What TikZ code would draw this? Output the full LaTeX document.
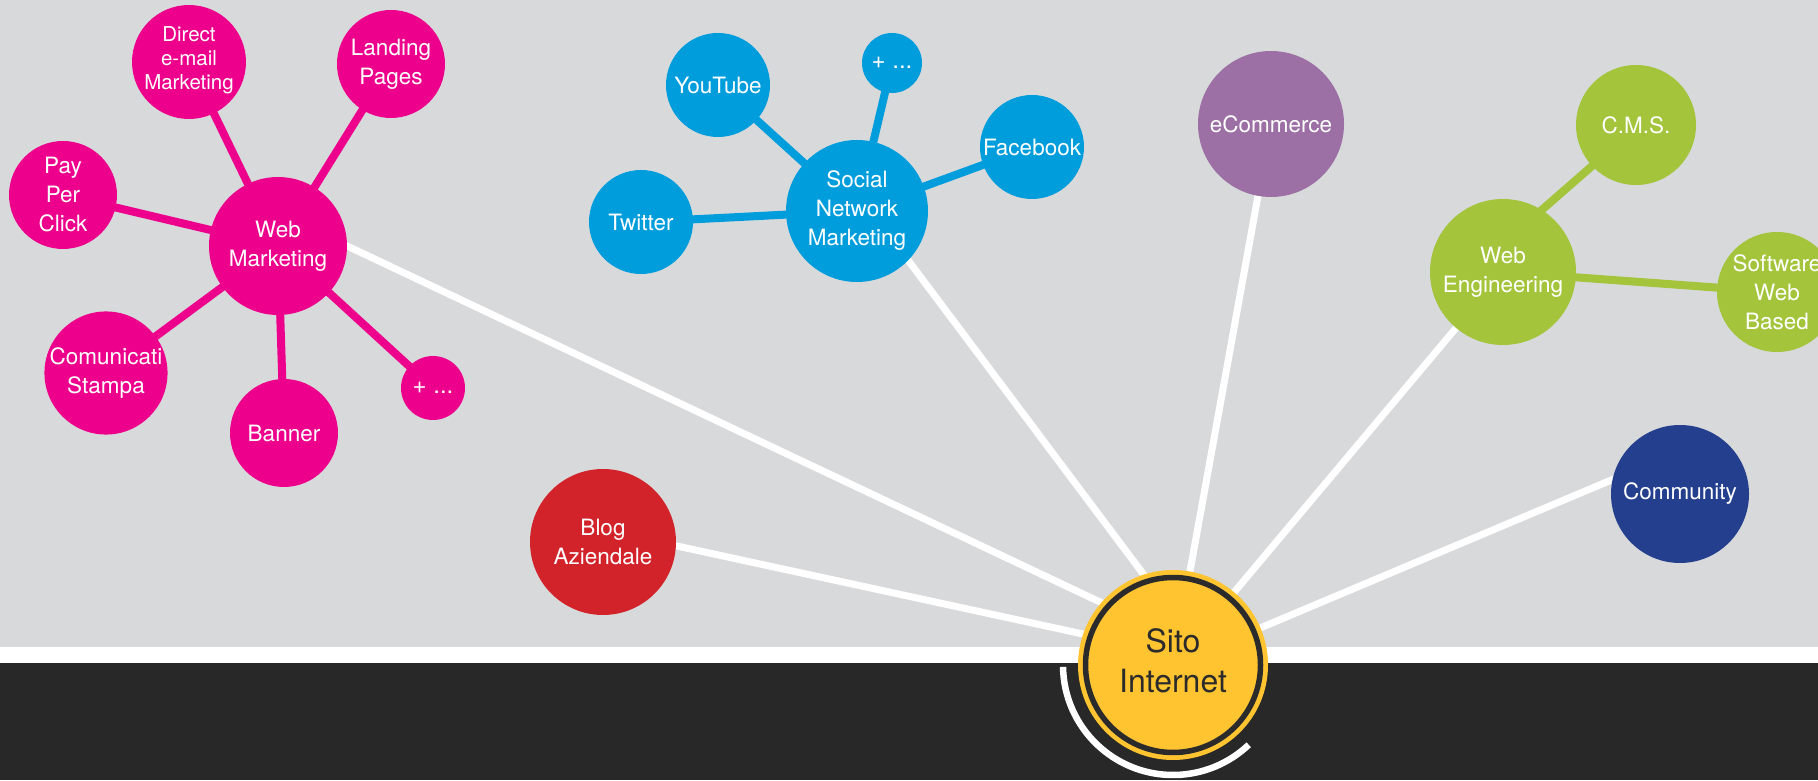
\documentclass[tikz,border=0pt]{standalone}
\usepackage{fontspec}
\setmainfont{TeX Gyre Heros}
\usetikzlibrary{backgrounds}

\tikzset{
    bubble/.style={circle, inner sep=0pt, align=center, text=white,
        font=\fontsize{22.5}{29}\selectfont},
    spoke/.style={white, line width=7pt, shorten <=-5pt, shorten >=-5pt},
    twig/.style={line width=8pt, shorten <=-5pt, shorten >=-5pt}
}

\begin{document}
\begin{tikzpicture}[x=1pt, y=1pt]
    \definecolor{paper}{RGB}{216,217,219}
    \definecolor{basedark}{RGB}{40,40,40}
    \definecolor{sitoyellow}{RGB}{255,196,48}
    \definecolor{sitodark}{RGB}{43,43,43}
    \definecolor{mktpink}{RGB}{236,0,140}
    \definecolor{socialblue}{RGB}{0,157,220}
    \definecolor{ecompurple}{RGB}{156,112,164}
    \definecolor{enggreen}{RGB}{163,196,59}
    \definecolor{commblue}{RGB}{36,63,142}
    \definecolor{blogred}{RGB}{210,35,42}

    \def\ring{110}

    \useasboundingbox (0,0) rectangle (1818,780);

    \node[bubble, fill=sitoyellow, text=sitodark, minimum size=190pt, text depth=8pt,
        font=\fontsize{32}{40}\selectfont] (sito) at (1173,115) {Sito\\Internet};
    \draw[sitodark, line width=5.5pt] (sito.center) circle (87.5);

    \node[bubble, fill=mktpink, minimum size=138pt] (webmkt) at (278,534) {Web\\Marketing};
    \node[bubble, fill=mktpink, minimum size=108pt, text depth=8pt,
        font=\fontsize{20.5}{24}\selectfont] (direct) at (189,718) {Direct\\e-mail\\Marketing};
    \node[bubble, fill=mktpink, minimum size=108pt] (landing) at (391,716) {Landing\\Pages};
    \node[bubble, fill=mktpink, minimum size=108pt] (ppc) at (63,585) {Pay\\Per\\Click};
    \node[bubble, fill=mktpink, minimum size=120pt] (comunicati) at (106,407) {Comunicati\\Stampa};
    \node[bubble, fill=mktpink, minimum size=108pt] (banner) at (284,347) {Banner};
    \node[bubble, fill=mktpink, minimum size=64pt,
        font=\fontsize{24}{28}\selectfont] (pinkmore) at (433,392) {+ ...};

    \node[bubble, fill=socialblue, minimum size=142pt] (social) at (857,569) {Social\\Network\\Marketing};
    \node[bubble, fill=socialblue, minimum size=104pt] (youtube) at (718,695) {YouTube};
    \node[bubble, fill=socialblue, minimum size=60pt,
        font=\fontsize{24}{28}\selectfont] (bluemore) at (892,717) {+ ...};
    \node[bubble, fill=socialblue, minimum size=104pt] (facebook) at (1032,633) {Facebook};
    \node[bubble, fill=socialblue, minimum size=104pt] (twitter) at (641,558) {Twitter};

    \node[bubble, fill=ecompurple, minimum size=146pt] (ecommerce) at (1271,656) {eCommerce};

    \node[bubble, fill=enggreen, minimum size=146pt] (webeng) at (1503,508) {Web\\Engineering};
    \node[bubble, fill=enggreen, minimum size=120pt] (cms) at (1636,655) {C.M.S.};
    \node[bubble, fill=enggreen, minimum size=120pt] (software) at (1777,488) {Software\\Web\\Based};

    \node[bubble, fill=commblue, minimum size=138pt] (community) at (1680,286) {Community};
    \node[bubble, fill=blogred, minimum size=146pt] (blog) at (603,238) {Blog\\Aziendale};

    \begin{scope}[on background layer]
        \fill[paper] (0,133) rectangle (1818,780);
        \fill[white] (0,117) rectangle (1818,133);
        \fill[basedark] (0,0) rectangle (1818,117);
        \draw[white, line width=6.5pt] (sito.center) ++(181:\ring) arc (181:313.5:\ring);

        \draw[spoke] (webmkt.0) -- (sito.139);
        \draw[spoke] (blog.357) -- (sito.161);
        \draw[spoke] (social.316) -- (sito.108);
        \draw[spoke] (ecommerce.center) -- (sito.center);
        \draw[spoke] (webeng.center) -- (sito.center);
        \draw[spoke] (community.168) -- (sito.23);

        \foreach \leaf in {direct,landing,ppc,comunicati,banner,pinkmore}
            \draw[twig, mktpink] (webmkt.center) -- (\leaf.center);
        \foreach \leaf in {youtube,bluemore,facebook,twitter}
            \draw[twig, socialblue] (social.center) -- (\leaf.center);
        \draw[twig, enggreen] (webeng.58) -- (cms.223);
        \draw[twig, enggreen] (webeng.center) -- (software.center);
    \end{scope}
\end{tikzpicture}
\end{document}
